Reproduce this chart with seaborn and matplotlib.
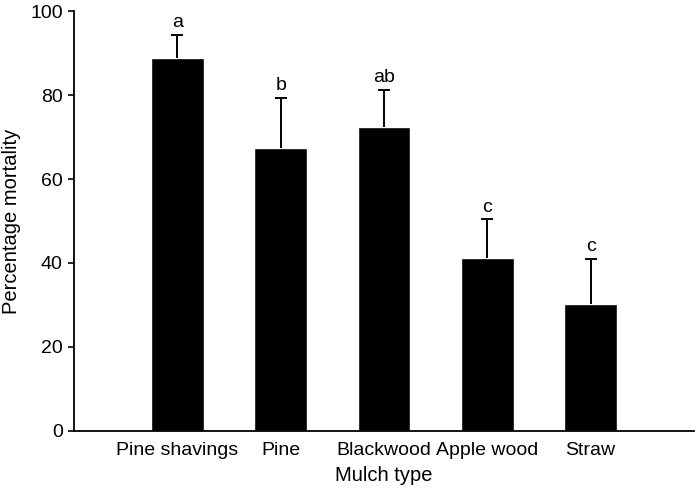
import numpy as np
import pandas as pd
import seaborn as sns
import matplotlib.pyplot as plt

# values
mulch_types = ['Pine shavings', 'Pine', 'Blackwood', 'Apple wood', 'Straw']
mortality = [88.9, 67.3, 72.3, 41.1, 30.2]
error_upper = [5.5, 12.1, 8.9, 9.3, 10.8]
group_letters = ['a', 'b', 'ab', 'c', 'c']
y_ticks = [0, 20, 40, 60, 80, 100]

sns.set_theme(style='ticks')
plt.rcParams['font.family'] = ['Liberation Sans', 'DejaVu Sans']

df = pd.DataFrame({'Mulch type': mulch_types, 'Percentage mortality': mortality})

fig = plt.figure(figsize=(6.96, 4.88), dpi=100)
ax = fig.add_axes([0.1063, 0.1174, 0.8907, 0.8596])

sns.barplot(data=df, x='Mulch type', y='Percentage mortality', color='black',
            errorbar=None, width=0.51, saturation=1, ax=ax)

# upper-only error bars: stem plus a single cap
pos = np.arange(len(mulch_types))
tops = np.array(mortality) + np.array(error_upper)
cap_half = 0.058
ax.vlines(pos, mortality, tops, color='black', linewidth=1.4)
ax.hlines(tops, pos - cap_half, pos + cap_half, color='black', linewidth=1.4)

for i, (t, lab) in enumerate(zip(tops, group_letters)):
    ax.text(i, t + 0.9, lab, ha='center', va='bottom', fontsize=14, color='black')

ax.set_xlim(-1, 5)
ax.set_ylim(0, 100)
ax.set_yticks(y_ticks)
ax.tick_params(axis='y', direction='out', length=4, width=1.2, labelsize=14, colors='black', pad=4)
ax.tick_params(axis='x', length=0, labelsize=14, colors='black', pad=8)
ax.set_xlabel('Mulch type', fontsize=14.5, color='black', labelpad=5)
ax.set_ylabel('Percentage mortality', fontsize=14.5, color='black', labelpad=7)

sns.despine(ax=ax)
for s in ['left', 'bottom']:
    ax.spines[s].set_linewidth(1.3)
    ax.spines[s].set_color('black')

fig.savefig('out.png', dpi=100)
